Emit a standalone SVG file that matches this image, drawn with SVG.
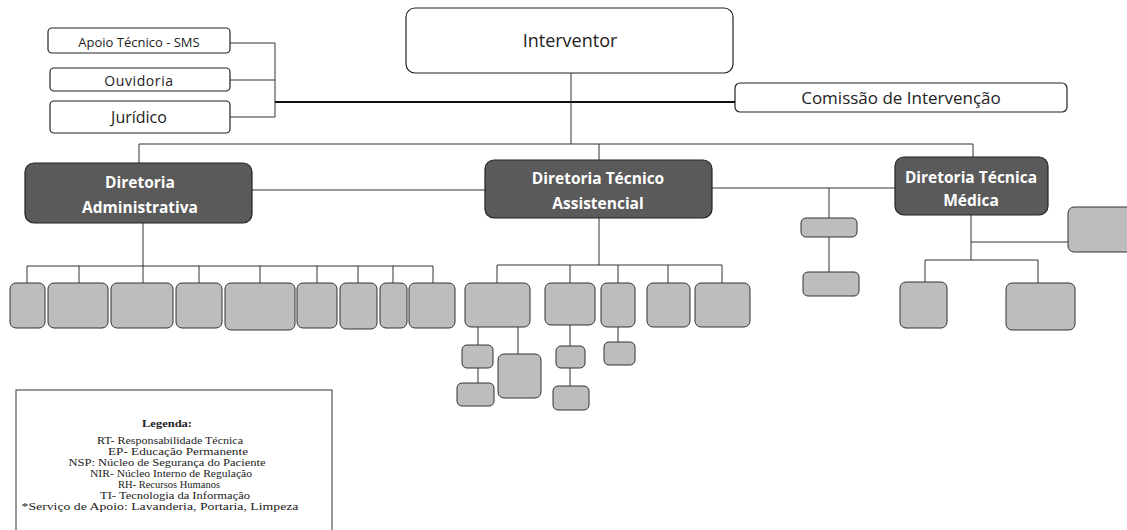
<svg xmlns="http://www.w3.org/2000/svg" width="1127" height="530" viewBox="0 0 1127 530">
<style>
  .box { fill: #ffffff; stroke: #222; stroke-width: 1.2; }
  .dir { fill: #5a5a5a; stroke: #222; stroke-width: 1.2; }
  .sub { fill: #bdbdbd; stroke: #333; stroke-width: 1; }
  .ln { stroke: #333; stroke-width: 1; fill: none; }
  .thick { stroke: #111; stroke-width: 2; fill: none; }
  .t { font-family: "Open Sans", "Noto Sans", sans-serif; fill: #222; text-anchor: middle; }
  .dt { font-family: "Open Sans", "Noto Sans", sans-serif; fill: #ffffff; font-weight: bold; text-anchor: middle; font-size: 15.5px; }
  .lg { font-family: "Liberation Serif", serif; fill: #222; text-anchor: middle; font-size: 9.5px; }
</style>
<rect width="1127" height="530" fill="#ffffff"/>

<g id="connectors">
  <path class="ln" d="M230 43 H275 M230 80 H275 M230 117 H275 M275 43 V117"/>
  <path class="thick" d="M275 102 H735"/>
  <path class="ln" d="M571 73 V144"/>
  <path class="ln" d="M139 144 H973 M139 144 V163 M599 144 V160 M973 144 V157"/>
  <path class="ln" d="M252 190 H485 M712 188 H895 M829 188 V218 M829 237 V272"/>
  <path class="ln" d="M143 223 V266 M27 266 H433 M27 266 V283 M79 266 V283 M143 266 V283 M199 266 V283 M260 266 V283 M317 266 V283 M358 266 V283 M393 266 V283 M433 266 V283"/>
  <path class="ln" d="M599 218 V265 M497 265 H722 M497 265 V283 M570 265 V283 M618 265 V283 M668 265 V283 M722 265 V283"/>
  <path class="ln" d="M478 327 V345 M478 368 V383 M518 327 V354 M570 325 V346 M570 368 V386 M618 327 V342"/>
  <path class="ln" d="M971 215 V260 M925 260 H1038 M925 260 V282 M1038 260 V283 M971 242 H1068"/>
</g>

<g id="apoio"><rect class="box" x="48" y="28" width="182" height="25" rx="4"/><text class="t" x="139" y="47" font-size="13">Apoio Técnico - SMS</text></g>
<g id="ouvidoria"><rect class="box" x="50" y="68" width="180" height="23" rx="4"/><text class="t" x="139" y="86" font-size="14" letter-spacing="0.6">Ouvidoria</text></g>
<g id="juridico"><rect class="box" x="50" y="101" width="180" height="32" rx="4"/><text class="t" x="139" y="123" font-size="16">Jurídico</text></g>
<g id="interventor"><rect class="box" x="406" y="8" width="327" height="65" rx="9"/><text class="t" x="570" y="47" font-size="18">Interventor</text></g>
<g id="comissao"><rect class="box" x="735" y="83" width="332" height="29" rx="5"/><text class="t" x="901" y="104" font-size="17">Comissão de Intervenção</text></g>

<g id="dir-adm"><rect class="dir" x="25" y="163" width="227" height="60" rx="9"/><text class="dt" x="140" y="188">Diretoria</text><text class="dt" x="140" y="213">Administrativa</text></g>
<g id="dir-ass"><rect class="dir" x="485" y="160" width="227" height="58" rx="9"/><text class="dt" x="598" y="184">Diretoria Técnico</text><text class="dt" x="598" y="209">Assistencial</text></g>
<g id="dir-med"><rect class="dir" x="895" y="157" width="153" height="58" rx="9"/><text class="dt" x="971" y="183">Diretoria Técnica</text><text class="dt" x="971" y="206">Médica</text></g>

<g id="adm-1"><rect class="sub" x="10" y="283" width="35" height="45" rx="6"/></g>
<g id="adm-2"><rect class="sub" x="48" y="283" width="60" height="45" rx="6"/></g>
<g id="adm-3"><rect class="sub" x="111" y="283" width="62" height="45" rx="6"/></g>
<g id="adm-4"><rect class="sub" x="176" y="283" width="46" height="45" rx="6"/></g>
<g id="adm-5"><rect class="sub" x="225" y="283" width="70" height="47" rx="6"/></g>
<g id="adm-6"><rect class="sub" x="297" y="283" width="40" height="45" rx="6"/></g>
<g id="adm-7"><rect class="sub" x="340" y="283" width="37" height="46" rx="6"/></g>
<g id="adm-8"><rect class="sub" x="380" y="283" width="27" height="45" rx="6"/></g>
<g id="adm-9"><rect class="sub" x="409" y="283" width="46" height="45" rx="6"/></g>

<g id="ass-a"><rect class="sub" x="465" y="283" width="65" height="44" rx="6"/></g>
<g id="ass-a1"><rect class="sub" x="462" y="345" width="31" height="23" rx="5"/></g>
<g id="ass-a2"><rect class="sub" x="457" y="383" width="37" height="23" rx="5"/></g>
<g id="ass-a3"><rect class="sub" x="498" y="354" width="43" height="44" rx="6"/></g>
<g id="ass-b"><rect class="sub" x="545" y="283" width="50" height="42" rx="6"/></g>
<g id="ass-b1"><rect class="sub" x="556" y="346" width="29" height="22" rx="5"/></g>
<g id="ass-b2"><rect class="sub" x="553" y="386" width="36" height="24" rx="5"/></g>
<g id="ass-c"><rect class="sub" x="601" y="283" width="34" height="44" rx="6"/></g>
<g id="ass-c1"><rect class="sub" x="604" y="342" width="31" height="23" rx="5"/></g>
<g id="ass-d"><rect class="sub" x="647" y="283" width="43" height="44" rx="6"/></g>
<g id="ass-e"><rect class="sub" x="695" y="283" width="55" height="44" rx="6"/></g>

<g id="mid-1"><rect class="sub" x="801" y="218" width="56" height="19" rx="5"/></g>
<g id="mid-2"><rect class="sub" x="803" y="272" width="56" height="24" rx="5"/></g>

<g id="med-r"><rect class="sub" x="1068" y="207" width="65" height="45" rx="6"/></g>
<g id="med-l"><rect class="sub" x="900" y="282" width="47" height="46" rx="6"/></g>
<g id="med-rr"><rect class="sub" x="1006" y="283" width="69" height="47" rx="6"/></g>

<g id="legenda">
  <rect x="16" y="390" width="316" height="150" fill="#ffffff" stroke="#333" stroke-width="1"/>
  <text class="lg" x="167" y="427" font-weight="bold" textLength="50" lengthAdjust="spacingAndGlyphs">Legenda:</text>
  <text class="lg" x="170" y="444" textLength="146" lengthAdjust="spacingAndGlyphs">RT- Responsabilidade Técnica</text>
  <text class="lg" x="178" y="455" textLength="140" lengthAdjust="spacingAndGlyphs">EP- Educação Permanente</text>
  <text class="lg" x="167" y="466" textLength="197" lengthAdjust="spacingAndGlyphs">NSP: Núcleo de Segurança do Paciente</text>
  <text class="lg" x="171" y="477" textLength="162" lengthAdjust="spacingAndGlyphs">NIR- Núcleo Interno de Regulação</text>
  <text class="lg" x="169" y="488" textLength="102" lengthAdjust="spacingAndGlyphs">RH- Recursos Humanos</text>
  <text class="lg" x="175" y="499" textLength="150" lengthAdjust="spacingAndGlyphs">TI- Tecnologia da Informação</text>
  <text class="lg" x="160" y="510" textLength="277" lengthAdjust="spacingAndGlyphs">*Serviço de Apoio: Lavanderia, Portaria, Limpeza</text>
</g>
</svg>
